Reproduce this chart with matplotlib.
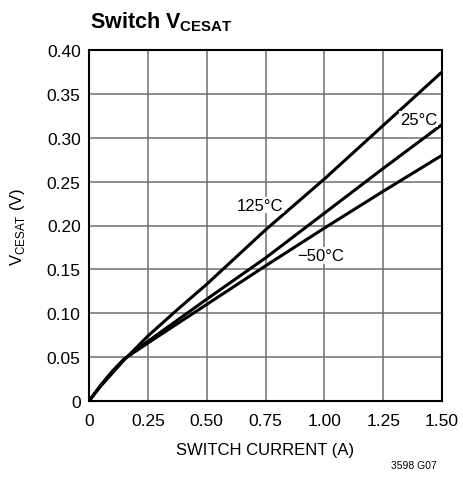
import matplotlib.pyplot as plt
from matplotlib import font_manager

# font: narrow sans if available
names = {f.name for f in font_manager.fontManager.ttflist}
narrow = 'Liberation Sans Narrow' if 'Liberation Sans Narrow' in names else 'Liberation Sans'
plt.rcParams['font.family'] = [narrow, 'DejaVu Sans']
plt.rcParams['mathtext.fontset'] = 'custom'
plt.rcParams['mathtext.rm'] = narrow
plt.rcParams['mathtext.bf'] = narrow + ':bold'

current = [0, 0.05, 0.1, 0.15, 0.25, 0.375, 0.5, 0.75, 1.0, 1.25, 1.5]
v_125 = [0, 0.017, 0.032, 0.047, 0.074, 0.104, 0.133, 0.195, 0.253, 0.314, 0.375]
v_25 = [0, 0.018, 0.034, 0.048, 0.068, 0.092, 0.116, 0.163, 0.214, 0.265, 0.315]
v_m50 = [0, 0.018, 0.034, 0.048, 0.066, 0.088, 0.110, 0.154, 0.197, 0.239, 0.280]

xticks = [0, 0.25, 0.5, 0.75, 1.0, 1.25, 1.5]
xlabels = ['0', '0.25', '0.50', '0.75', '1.00', '1.25', '1.50']
yticks = [0, 0.05, 0.10, 0.15, 0.20, 0.25, 0.30, 0.35, 0.40]
ylabels = ['0', '0.05', '0.10', '0.15', '0.20', '0.25', '0.30', '0.35', '0.40']

fig = plt.figure(figsize=(4.63, 4.81), dpi=100)
ax = fig.add_axes([89/463, 1 - 402/481, 353/463, 351/481])

for y in (v_125, v_25, v_m50):
    ax.plot(current, y, color='black', lw=2.2, solid_capstyle='butt',
            solid_joinstyle='round', zorder=3)

ax.set_xlim(0, 1.5)
ax.set_ylim(0, 0.4)
ax.set_xticks(xticks)
ax.set_xticklabels(xlabels)
ax.set_yticks(yticks)
ax.set_yticklabels(ylabels)
ax.tick_params(axis='x', length=0, labelsize=12.5, pad=9)
ax.tick_params(axis='y', length=0, labelsize=12.5, pad=6)
ax.grid(True, color='#6f6f6f', lw=1.1)
for s in ax.spines.values():
    s.set_linewidth(1.5)

bb = dict(facecolor='white', edgecolor='none', pad=0.5)
ax.text(0.728, 0.223, '125°C', fontsize=12, ha='center', va='center', bbox=bb, zorder=4)
ax.text(0.985, 0.166, '\u221250°C', fontsize=12, ha='center', va='center', bbox=bb, zorder=4)
ax.text(1.40, 0.321, '25°C', fontsize=12, ha='center', va='center', bbox=bb, zorder=4)

ax.set_xlabel('SWITCH CURRENT (A)', fontsize=12, labelpad=10)
ax.set_ylabel(r'V$_{\mathrm{CESAT}}$ (V)', fontsize=12, labelpad=14)

fig.text(90/463, 1 - 22/481, r'Switch V$_{\mathbf{CESAT}}$', fontsize=15.5, fontweight='bold',
         ha='left', va='center')
fig.text(437/463, 1 - 466/481, '3598 G07', fontsize=7.5, ha='right', va='center')

fig.savefig('out.png', dpi=100, facecolor='white')
